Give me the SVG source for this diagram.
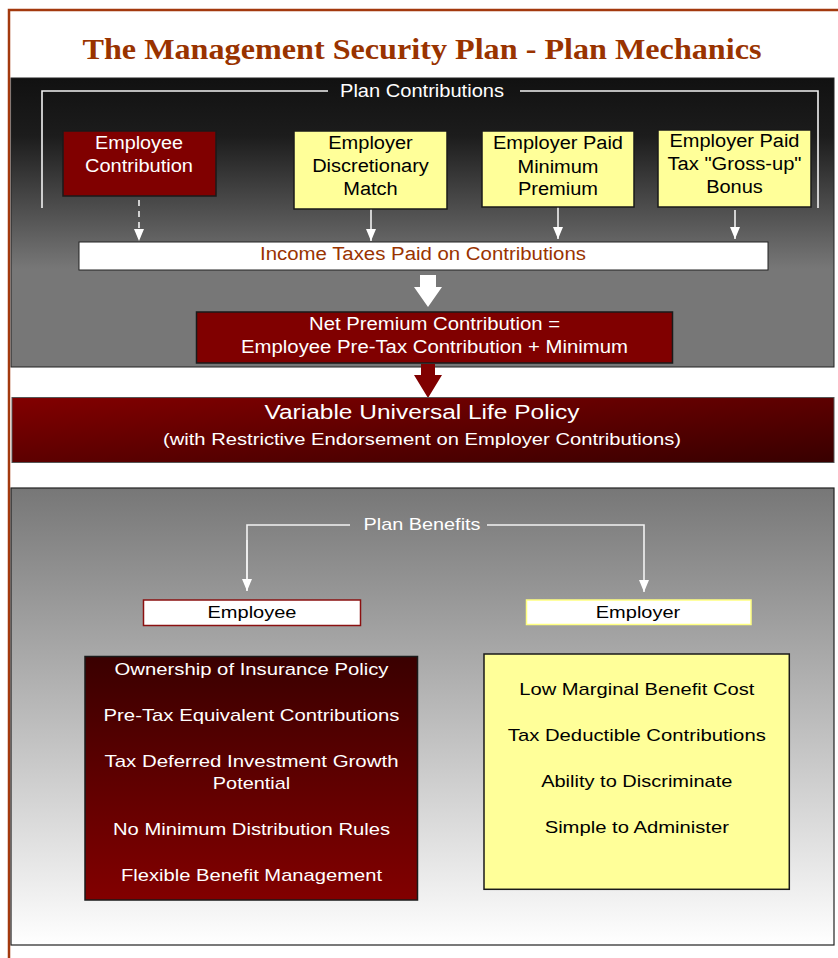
<svg xmlns="http://www.w3.org/2000/svg" width="838" height="958" viewBox="0 0 838 958">
<style>
.t{font-family:"Liberation Sans",Arial,sans-serif;text-anchor:middle}
.w{fill:#ffffff}
.k{fill:#000000}
.bx{stroke:#1a1a1a;stroke-width:1.5}
.wl{stroke:#f2f2f2;stroke-width:1.6;fill:none}
</style>
<defs>
<linearGradient id="gTop" gradientUnits="userSpaceOnUse" x1="0" y1="78" x2="0" y2="367">
<stop offset="0" stop-color="#111111"/>
<stop offset="0.2" stop-color="#1c1c1c"/>
<stop offset="0.66" stop-color="#777777"/>
<stop offset="1" stop-color="#777777"/>
</linearGradient>
<linearGradient id="gBot" gradientUnits="userSpaceOnUse" x1="0" y1="488" x2="0" y2="945">
<stop offset="0" stop-color="#777777"/>
<stop offset="1" stop-color="#ffffff"/>
</linearGradient>
<linearGradient id="gVul" x1="0" y1="0" x2="1" y2="1">
<stop offset="0" stop-color="#820000"/>
<stop offset="1" stop-color="#380000"/>
</linearGradient>
<linearGradient id="gEmp" x1="0" y1="0" x2="0" y2="1">
<stop offset="0" stop-color="#3a0000"/>
<stop offset="1" stop-color="#820000"/>
</linearGradient>
<marker id="ah" viewBox="0 0 12 10" refX="12" refY="5" markerWidth="12" markerHeight="10" markerUnits="userSpaceOnUse" orient="auto">
<path d="M0,0 L12,5 L0,10 Z" fill="#ffffff"/>
</marker>
</defs>

<rect x="0" y="0" width="838" height="958" fill="#ffffff"/>
<!-- outer frame -->
<path d="M9,958 L9,10 L838,10" fill="none" stroke="#a3390e" stroke-width="2.5"/>

<text x="422" y="59" style="font-family:'Liberation Serif','Times New Roman',serif;font-weight:bold;font-size:30px;text-anchor:middle" fill="#993300" textLength="679" lengthAdjust="spacingAndGlyphs">The Management Security Plan - Plan Mechanics</text>

<!-- panels -->
<g id="contrib-panel">
<rect x="11" y="78" width="823" height="289" fill="url(#gTop)" stroke="#222" stroke-width="1"/>
<text class="t w" x="422" y="97" style="font-size:18.5px" textLength="164" lengthAdjust="spacingAndGlyphs">Plan Contributions</text>
</g>
<g id="benefit-panel">
<rect x="11" y="488" width="823" height="457" fill="url(#gBot)" stroke="#222" stroke-width="1.2"/>
<text class="t w" x="422" y="530" style="font-size:17px" textLength="117" lengthAdjust="spacingAndGlyphs">Plan Benefits</text>
</g>

<!-- connectors -->
<g id="connectors">
<path class="wl" d="M42,208 L42,91 L328,91 M520,91 L818,91 L818,208"/>
<line class="wl" x1="139" y1="200" x2="139" y2="241" stroke-dasharray="6,5" marker-end="url(#ah)"/>
<line class="wl" x1="371" y1="209" x2="371" y2="241" marker-end="url(#ah)"/>
<line class="wl" x1="558" y1="207" x2="558" y2="239" marker-end="url(#ah)"/>
<line class="wl" x1="735" y1="210" x2="735" y2="239" marker-end="url(#ah)"/>
<polygon points="420,275 436,275 436,287 442,287 428,307 414,287 420,287" fill="#ffffff"/>
<polygon points="421,364 435,364 435,375 442,375 428,398 414,375 421,375" fill="#800000"/>
<path class="wl" d="M247,591 L247,525 L350,525 M487,525 L644,525 L644,592" marker-end="url(#ah)"/>
<line class="wl" x1="247" y1="540" x2="247" y2="591" marker-end="url(#ah)"/>
</g>

<g id="employee-contribution">
<rect class="bx" x="63" y="131" width="153" height="65" fill="#800000"/>
<text class="t w" x="139" y="149" style="font-size:18px" textLength="88" lengthAdjust="spacingAndGlyphs">Employee</text>
<text class="t w" x="139" y="172" style="font-size:18px" textLength="108" lengthAdjust="spacingAndGlyphs">Contribution</text>
</g>
<g id="employer-match">
<rect class="bx" x="294" y="131" width="153" height="78" fill="#ffff99"/>
<text class="t k" x="370.5" y="149" style="font-size:18px" textLength="84.5" lengthAdjust="spacingAndGlyphs">Employer</text>
<text class="t k" x="370.5" y="172" style="font-size:18px" textLength="116.7" lengthAdjust="spacingAndGlyphs">Discretionary</text>
<text class="t k" x="370.5" y="195" style="font-size:18px" textLength="54.5" lengthAdjust="spacingAndGlyphs">Match</text>
</g>
<g id="employer-minimum">
<rect class="bx" x="482" y="131" width="152" height="76" fill="#ffff99"/>
<text class="t k" x="558" y="149" style="font-size:18px" textLength="130" lengthAdjust="spacingAndGlyphs">Employer Paid</text>
<text class="t k" x="558" y="172.5" style="font-size:18px" textLength="81" lengthAdjust="spacingAndGlyphs">Minimum</text>
<text class="t k" x="558" y="195" style="font-size:18px" textLength="80" lengthAdjust="spacingAndGlyphs">Premium</text>
</g>
<g id="employer-bonus">
<rect class="bx" x="658" y="130" width="153" height="77" fill="#ffff99"/>
<text class="t k" x="734.5" y="146.7" style="font-size:18px" textLength="130" lengthAdjust="spacingAndGlyphs">Employer Paid</text>
<text class="t k" x="734.5" y="170" style="font-size:18px" textLength="134" lengthAdjust="spacingAndGlyphs">Tax "Gross-up"</text>
<text class="t k" x="734.5" y="193.3" style="font-size:18px" textLength="56.7" lengthAdjust="spacingAndGlyphs">Bonus</text>
</g>
<g id="income-taxes">
<rect x="79" y="242" width="689" height="28" fill="#ffffff" stroke="#222" stroke-width="1"/>
<text class="t" x="423" y="260" style="font-size:18px" fill="#993300" textLength="326" lengthAdjust="spacingAndGlyphs">Income Taxes Paid on Contributions</text>
</g>
<g id="net-premium">
<rect class="bx" x="196.5" y="312" width="476" height="51" fill="#800000"/>
<text class="t w" x="434.5" y="330" style="font-size:17.5px" textLength="251" lengthAdjust="spacingAndGlyphs">Net Premium Contribution =</text>
<text class="t w" x="434.5" y="353" style="font-size:17.5px" textLength="387" lengthAdjust="spacingAndGlyphs">Employee Pre-Tax Contribution + Minimum</text>
</g>
<g id="vul-policy">
<rect x="12" y="397.5" width="822" height="65" fill="url(#gVul)" stroke="#555" stroke-width="1"/>
<text class="t w" x="422" y="419.3" style="font-size:20px" textLength="315" lengthAdjust="spacingAndGlyphs">Variable Universal Life Policy</text>
<text class="t w" x="422" y="445" style="font-size:16px" textLength="518" lengthAdjust="spacingAndGlyphs">(with Restrictive Endorsement on Employer Contributions)</text>
</g>
<g id="employee-label">
<rect x="143.5" y="600" width="217" height="25.5" fill="#ffffff" stroke="#8b1010" stroke-width="1.5"/>
<text class="t k" x="252" y="617.5" style="font-size:17px" textLength="89" lengthAdjust="spacingAndGlyphs">Employee</text>
</g>
<g id="employer-label">
<rect x="526.5" y="600" width="224.5" height="24.5" fill="#ffffff" stroke="#ffff80" stroke-width="1.5"/>
<text class="t k" x="638" y="617.5" style="font-size:17px" textLength="84.4" lengthAdjust="spacingAndGlyphs">Employer</text>
</g>
<g id="employee-benefits">
<rect class="bx" x="85" y="656.5" width="332.5" height="243.5" fill="url(#gEmp)"/>
<text class="t w" x="251.5" y="675" style="font-size:17px" textLength="274" lengthAdjust="spacingAndGlyphs">Ownership of Insurance Policy</text>
<text class="t w" x="251.5" y="721" style="font-size:17px" textLength="296" lengthAdjust="spacingAndGlyphs">Pre-Tax Equivalent Contributions</text>
<text class="t w" x="251.5" y="766.7" style="font-size:17px" textLength="294" lengthAdjust="spacingAndGlyphs">Tax Deferred Investment Growth</text>
<text class="t w" x="251.5" y="789.3" style="font-size:17px" textLength="77.3" lengthAdjust="spacingAndGlyphs">Potential</text>
<text class="t w" x="251.5" y="835" style="font-size:17px" textLength="277" lengthAdjust="spacingAndGlyphs">No Minimum Distribution Rules</text>
<text class="t w" x="251.5" y="880.7" style="font-size:17px" textLength="261" lengthAdjust="spacingAndGlyphs">Flexible Benefit Management</text>
</g>
<g id="employer-benefits">
<rect class="bx" x="484" y="654" width="305.3" height="235.3" fill="#ffff99"/>
<text class="t k" x="636.8" y="695" style="font-size:17px" textLength="235" lengthAdjust="spacingAndGlyphs">Low Marginal Benefit Cost</text>
<text class="t k" x="636.8" y="741" style="font-size:17px" textLength="258" lengthAdjust="spacingAndGlyphs">Tax Deductible Contributions</text>
<text class="t k" x="636.8" y="786.7" style="font-size:17px" textLength="191.3" lengthAdjust="spacingAndGlyphs">Ability to Discriminate</text>
<text class="t k" x="636.8" y="832.7" style="font-size:17px" textLength="184.3" lengthAdjust="spacingAndGlyphs">Simple to Administer</text>
</g>
</svg>
